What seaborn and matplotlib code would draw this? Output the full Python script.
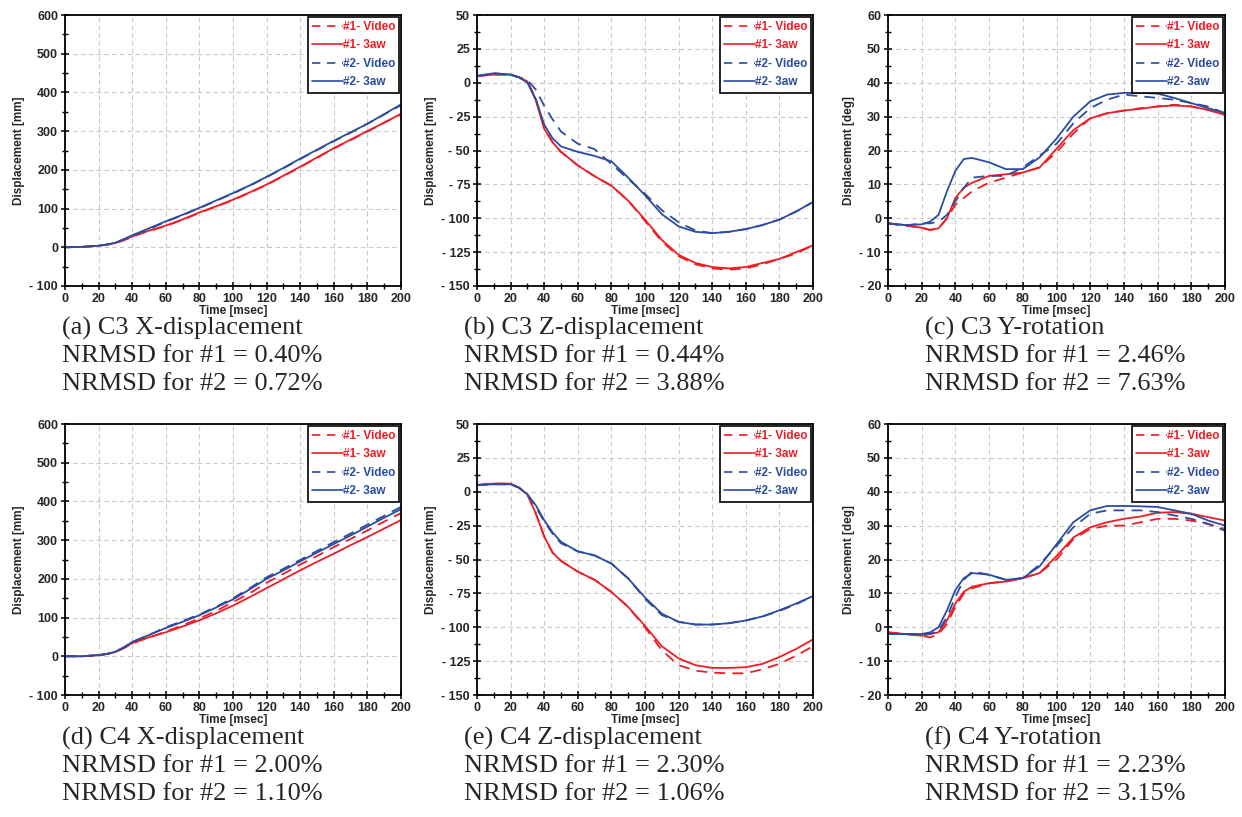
import numpy as np
import pandas as pd
import matplotlib
matplotlib.use("Agg")
import matplotlib.pyplot as plt
from matplotlib.ticker import MultipleLocator, FuncFormatter
from matplotlib.lines import Line2D
import seaborn as sns

sns.set_theme(style="white")
plt.rcParams['font.family'] = ['Liberation Sans', 'DejaVu Sans']

# ---------------- data ----------------
t = [0, 10, 20, 25, 30, 35, 40, 45, 50, 60, 70, 80, 90, 100, 110, 120, 130, 140, 150, 160, 170, 180, 190, 200]

series_names = ["#1- Video", "#1- 3aw", "#2- Video", "#2- 3aw"]

# (a) C3 X-displacement [mm]
a_v1 = [0, 1, 4, 7, 11, 18, 27, 35, 42, 55, 71, 89, 105, 122, 141, 161, 184, 207, 231, 255, 277, 299, 322, 343]
a_s1 = [0, 1, 4, 7, 11, 19, 28, 36, 43, 56, 72, 90, 106, 123, 142, 162, 185, 208, 232, 256, 278, 300, 322, 345]
a_v2 = [0, 1, 4, 7, 11, 20, 29, 38, 47, 66, 83, 101, 120, 139, 159, 181, 204, 228, 251, 274, 296, 319, 343, 367]
a_s2 = [0, 1, 4, 7, 12, 21, 31, 40, 49, 67, 84, 102, 121, 140, 160, 182, 205, 229, 252, 275, 297, 319, 344, 369]

# (b) C3 Z-displacement [mm]
b_v1 = [5, 6, 6, 4, 1, -12, -33, -44, -51, -61, -69, -76, -87, -102, -117, -128, -134, -137, -138, -137, -134, -130, -126, -120]
b_s1 = [5, 6, 6, 4, 1, -13, -34, -44, -51, -61, -69, -76, -87, -101, -116, -127, -133, -136, -137, -136, -133, -130, -125, -120]
b_v2 = [5, 7, 6, 4, 2, -5, -17, -27, -36, -45, -49, -60, -71, -82, -94, -103, -109, -111, -110, -108, -105, -101, -95, -88]
b_s2 = [5, 7, 6, 4, 0, -12, -31, -41, -47, -51, -54, -58, -70, -83, -97, -106, -110, -111, -110, -108, -105, -101, -95, -88]

# (c) C3 Y-rotation [deg]
c_v1 = [-1.5, -2.2, -2.8, -3.5, -3.0, 0.0, 4.0, 6.0, 8.0, 10.5, 12.0, 13.5, 15.0, 19.5, 25.0, 29.5, 31.0, 31.8, 32.5, 33.0, 33.5, 33.0, 32.0, 30.5]
c_s1 = [-1.5, -2.0, -2.8, -3.4, -3.0, 0.0, 6.0, 9.0, 10.5, 12.5, 13.0, 13.5, 15.0, 20.5, 26.0, 29.5, 31.0, 31.8, 32.3, 33.0, 33.3, 33.0, 32.0, 30.5]
c_v2 = [-1.5, -2.2, -1.5, -1.5, -1.0, 1.0, 5.0, 9.0, 12.0, 12.5, 12.5, 15.0, 18.5, 22.0, 28.0, 32.5, 35.0, 36.5, 36.0, 35.5, 35.0, 34.0, 33.0, 31.0]
c_s2 = [-1.5, -2.0, -1.8, -1.0, 1.0, 8.0, 14.0, 17.5, 17.8, 16.5, 14.5, 14.5, 18.0, 23.5, 30.0, 34.5, 36.5, 37.0, 37.0, 36.8, 35.5, 34.0, 32.5, 31.0]

# (d) C4 X-displacement [mm]
d_v1 = [0, 0, 3, 6, 11, 21, 33, 41, 48, 64, 80, 98, 117, 140, 163, 190, 213, 237, 259, 282, 303, 325, 348, 370]
d_s1 = [0, 0, 3, 6, 11, 21, 34, 42, 49, 62, 77, 93, 111, 131, 153, 176, 199, 222, 244, 265, 287, 308, 330, 352]
d_v2 = [0, 0, 3, 6, 12, 23, 37, 46, 55, 75, 91, 108, 128, 150, 176, 204, 226, 249, 272, 295, 317, 340, 363, 386]
d_s2 = [0, 0, 3, 6, 12, 23, 37, 46, 55, 73, 89, 106, 126, 147, 173, 200, 222, 245, 268, 290, 312, 335, 358, 380]

# (e) C4 Z-displacement [mm]
e_v1 = [5, 6, 6, 3, -2, -16, -33, -45, -51, -59, -65, -74, -85, -100, -117, -128, -132, -133.5, -134, -134, -131, -127, -121, -114]
e_s1 = [5, 6, 6, 3, -2, -16, -33, -45, -51, -59, -65, -74, -85, -99, -114, -123, -128, -130, -130, -129.5, -127, -122, -116, -109]
e_v2 = [5, 5.5, 5.5, 3, -2, -11, -22, -31, -38, -44, -47, -53, -64, -79, -91, -96, -98, -98, -97, -95, -92, -88, -83, -77]
e_s2 = [5, 5.5, 5.5, 3, -2, -10, -21, -30, -37, -44, -47, -53, -64, -78, -90, -96, -98, -98, -97, -95, -92, -87.5, -82.5, -77]

# (f) C4 Y-rotation [deg]
f_v1 = [-1.5, -2.0, -2.5, -3.0, -2.0, 1.0, 6.0, 10.0, 11.5, 13.0, 13.5, 14.5, 16.0, 20.0, 26.0, 29.0, 30.0, 30.0, 31.0, 32.0, 32.0, 31.5, 30.5, 29.0]
f_s1 = [-1.5, -2.0, -2.5, -2.0, -1.5, 2.0, 7.0, 10.5, 12.0, 13.0, 13.5, 14.5, 16.0, 21.0, 26.5, 29.5, 31.0, 32.0, 32.7, 33.8, 34.0, 33.5, 32.5, 31.5]
f_v2 = [-2.0, -2.0, -2.0, -2.0, -1.0, 3.0, 9.0, 14.0, 16.5, 15.5, 14.0, 14.5, 18.5, 24.0, 29.5, 33.5, 34.5, 34.5, 34.5, 34.0, 33.0, 32.0, 30.5, 28.5]
f_s2 = [-2.0, -2.0, -2.0, -1.5, 0.0, 5.0, 11.0, 14.5, 16.0, 15.5, 14.0, 14.5, 18.0, 24.5, 31.0, 34.5, 35.8, 35.8, 35.7, 35.5, 34.5, 33.5, 31.5, 30.0]

panel_series = [
    [a_v1, a_s1, a_v2, a_s2],
    [b_v1, b_s1, b_v2, b_s2],
    [c_v1, c_s1, c_v2, c_s2],
    [d_v1, d_s1, d_v2, d_s2],
    [e_v1, e_s1, e_v2, e_s2],
    [f_v1, f_s1, f_v2, f_s2],
]

ylabels = ["Displacement [mm]", "Displacement [mm]", "Displacement [deg]"] * 2
ylims = [(-100, 600), (-150, 50), (-20, 60)] * 2
ymajor = [100, 25, 10] * 2

captions = [
    ["(a) C3 X-displacement", "NRMSD for #1 = 0.40%", "NRMSD for #2 = 0.72%"],
    ["(b) C3 Z-displacement", "NRMSD for #1 = 0.44%", "NRMSD for #2 = 3.88%"],
    ["(c) C3 Y-rotation", "NRMSD for #1 = 2.46%", "NRMSD for #2 = 7.63%"],
    ["(d) C4 X-displacement", "NRMSD for #1 = 2.00%", "NRMSD for #2 = 1.10%"],
    ["(e) C4 Z-displacement", "NRMSD for #1 = 2.30%", "NRMSD for #2 = 1.06%"],
    ["(f) C4 Y-rotation", "NRMSD for #1 = 2.23%", "NRMSD for #2 = 3.15%"],
]

RED = "#ee1d25"
BLUE = "#2b4c9f"
palette = {series_names[0]: RED, series_names[1]: RED, series_names[2]: BLUE, series_names[3]: BLUE}
dashes = {series_names[0]: (6, 4), series_names[1]: "", series_names[2]: (6, 4), series_names[3]: ""}

W, H = 1242, 817
fig = plt.figure(figsize=(W / 100, H / 100), dpi=100)

col_left = [65, 477, 888]
col_w = [336, 336, 337]
row_top = [15, 424]
row_h = 271
cap_x = [62, 464, 925]
cap_y0 = [328, 738]


def yfmt(v, pos):
    iv = int(round(v))
    return f"- {abs(iv)}" if iv < 0 else f"{iv}"


for i, vals in enumerate(panel_series):
    r, c = divmod(i, 3)
    left = col_left[c] / W
    bottom = 1 - (row_top[r] + row_h) / H
    ax = fig.add_axes([left, bottom, col_w[c] / W, row_h / H])

    df = pd.concat([pd.DataFrame({"t": t, "v": v, "series": name})
                    for name, v in zip(series_names, vals)], ignore_index=True)
    sns.lineplot(data=df, x="t", y="v", hue="series", style="series",
                 palette=palette, dashes=dashes, hue_order=series_names,
                 style_order=series_names, linewidth=1.3, ax=ax,
                 legend=False, estimator=None, sort=False)

    ax.set_xlim(0, 200)
    ax.set_ylim(*ylims[i])
    ax.xaxis.set_major_locator(MultipleLocator(20))
    ax.xaxis.set_minor_locator(MultipleLocator(10))
    ax.yaxis.set_major_locator(MultipleLocator(ymajor[i]))
    ax.yaxis.set_minor_locator(MultipleLocator(ymajor[i] / 2))
    ax.yaxis.set_major_formatter(FuncFormatter(yfmt))
    ax.grid(True, which="major", color="#c8c8c8", linestyle=(0, (4, 3)), linewidth=0.8)
    ax.set_axisbelow(True)
    for s in ax.spines.values():
        s.set_color("black")
        s.set_linewidth(1.3)
        s.set_visible(True)
    ax.tick_params(axis="both", which="major", direction="inout", length=6, width=1.1,
                   color="black", labelsize=9, pad=2, bottom=True, left=True)
    ax.tick_params(axis="both", which="minor", direction="inout", length=5, width=1.0,
                   color="black", bottom=True, left=True)
    for lab in ax.get_xticklabels() + ax.get_yticklabels():
        lab.set_fontweight("bold")
    ax.set_xlabel("Time [msec]", fontsize=8.5, fontweight="bold", labelpad=0)
    ax.set_ylabel(ylabels[i], fontsize=8.5, fontweight="bold", labelpad=3)

    handles = [
        Line2D([], [], color=RED, linestyle=(0, (5, 4)), linewidth=1.2),
        Line2D([], [], color=RED, linestyle="-", linewidth=1.2),
        Line2D([], [], color=BLUE, linestyle=(0, (5, 4)), linewidth=1.2),
        Line2D([], [], color=BLUE, linestyle="-", linewidth=1.2),
    ]
    leg = ax.legend(handles, series_names, loc="upper right", fancybox=False,
                    frameon=True, edgecolor="black", framealpha=1,
                    prop={"size": 8.5, "weight": "bold"}, handlelength=2.6,
                    handletextpad=0.0, labelspacing=0.55, borderpad=0.35,
                    borderaxespad=0.15, labelcolor=[RED, RED, BLUE, BLUE])
    leg.get_frame().set_linewidth(1.2)

    for k, line in enumerate(captions[i]):
        fig.text(cap_x[c] / W, 1 - (cap_y0[r] + 28 * k) / H, line,
                 ha="left", va="center", fontsize=19,
                 family=["Liberation Serif", "DejaVu Serif"])

fig.savefig("out.png", dpi=100)
